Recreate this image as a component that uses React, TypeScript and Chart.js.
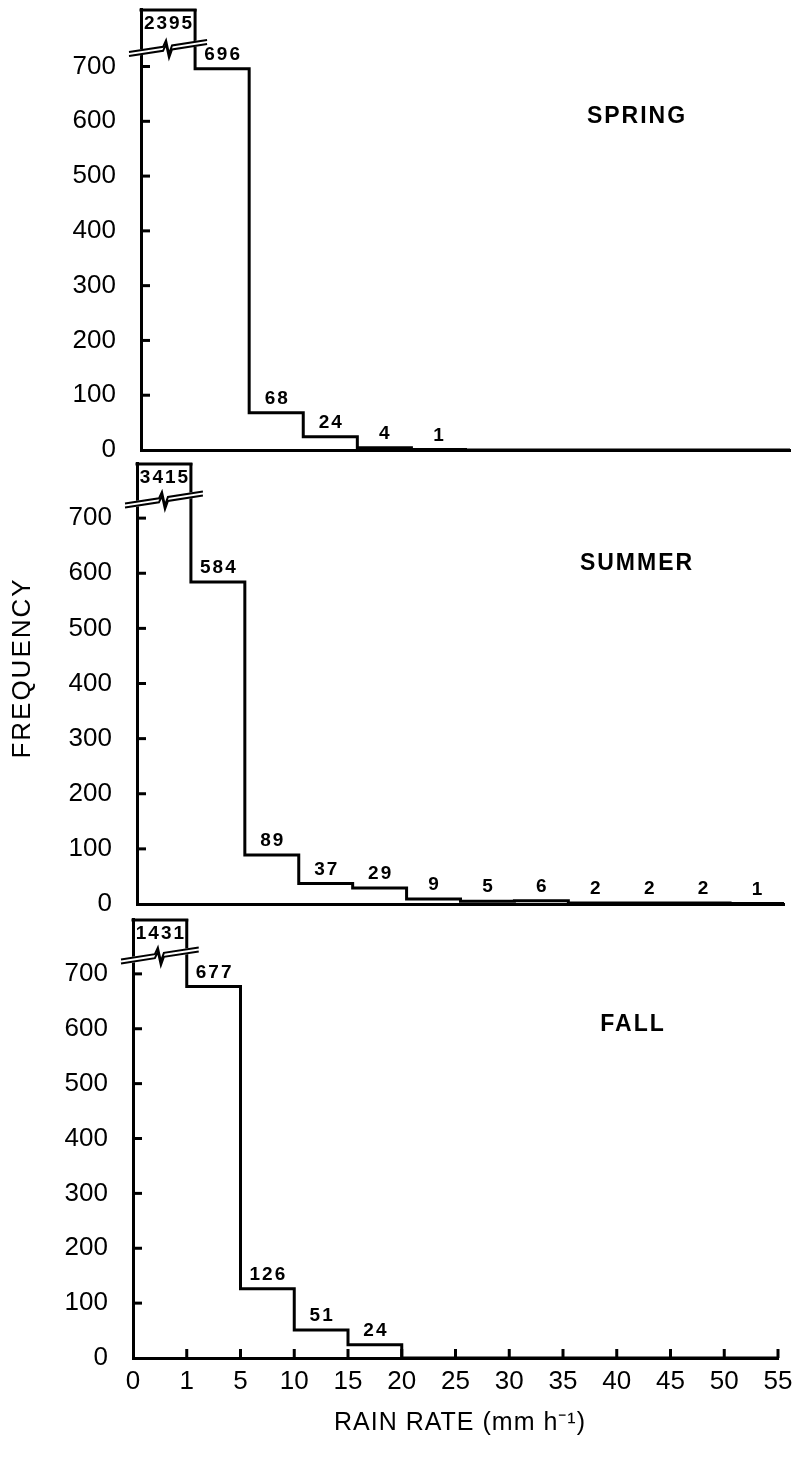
import React, { useEffect, useRef } from 'react';
import { Chart, registerables } from 'chart.js';

Chart.register(...registerables);

// ---------- data ----------
const rainRateLabels = ['0', '1', '5', '10', '15', '20', '25', '30', '35', '40', '45', '50', '55'];
const frequencyTicks = [0, 100, 200, 300, 400, 500, 600, 700];
const springCounts = [2395, 696, 68, 24, 4, 1, 0, 0, 0, 0, 0, 0];
const summerCounts = [3415, 584, 89, 37, 29, 9, 5, 6, 2, 2, 2, 1];
const fallCounts = [1431, 677, 126, 51, 24, 0, 0, 0, 0, 0, 0, 0];
const breakValue = 730;
const yAxisTitle = 'FREQUENCY';
const xAxisTitle = 'RAIN RATE (mm h\u207B\u00B9)';

// ---------- layout / style ----------
const FONT = '"Liberation Sans", Arial, Helvetica, sans-serif';

type PanelCfg = {
  name: string;
  counts: number[];
  top: number;
  height: number;
  left: number;
  right: number;
  plotTop: number;
  plotBottom: number;
  yMax: number;
  titleX: number;
  titleY: number;
  showX: boolean;
  drawYTitle?: boolean;
};

const panels: PanelCfg[] = [
  { name: 'SPRING', counts: springCounts, top: 0, height: 470, left: 141, right: 790, plotTop: 9, plotBottom: 450, yMax: 805, titleX: 636, titleY: 117, showX: false },
  { name: 'SUMMER', counts: summerCounts, top: 455, height: 470, left: 137, right: 784, plotTop: 463, plotBottom: 904, yMax: 800, titleX: 636, titleY: 564, showX: false, drawYTitle: true },
  { name: 'FALL', counts: fallCounts, top: 910, height: 550, left: 133, right: 778, plotTop: 919, plotBottom: 1358, yMax: 800, titleX: 632, titleY: 1025, showX: true },
];

function Panel({ cfg }: { cfg: PanelCfg }) {
  const ref = useRef<HTMLCanvasElement | null>(null);

  useEffect(() => {
    const canvas = ref.current;
    if (!canvas) return;
    const n = cfg.counts.length;
    const points = cfg.counts.map((v, i) => ({ x: i, y: v }));
    points.push({ x: n, y: cfg.counts[n - 1] });

    const localBottom = cfg.plotBottom - cfg.top;
    const xAreaHeight = cfg.height - localBottom;

    const decor = {
      id: 'decor' + cfg.name,
      afterDatasetsDraw(chart: any) {
        const ctx = chart.ctx as CanvasRenderingContext2D;
        const area = chart.chartArea;
        const xs = chart.scales.x;
        const ys = chart.scales.y;
        ctx.save();
        ctx.strokeStyle = '#000';
        ctx.fillStyle = '#000';
        ctx.lineCap = 'butt';

        // inward y ticks
        ctx.lineWidth = 3;
        frequencyTicks.forEach((v) => {
          if (v === 0) return;
          const y = ys.getPixelForValue(v);
          ctx.beginPath();
          ctx.moveTo(area.left, y);
          ctx.lineTo(area.left + 9, y);
          ctx.stroke();
        });

        // inward x ticks (bottom panel only)
        if (cfg.showX) {
          rainRateLabels.forEach((_, i) => {
            if (i === 0) return;
            const x = xs.getPixelForValue(i);
            ctx.beginPath();
            ctx.moveTo(x, area.bottom);
            ctx.lineTo(x, area.bottom - 9);
            ctx.stroke();
          });
        }

        // top edge of the broken first bar
        const x0 = xs.getPixelForValue(0);
        const x1 = xs.getPixelForValue(1);
        ctx.lineWidth = 3;
        ctx.beginPath();
        ctx.moveTo(x0 - 1.5, area.top + 1);
        ctx.lineTo(x1 + 1.5, area.top + 1);
        ctx.stroke();

        // break symbol
        const yb = ys.getPixelForValue(breakValue);
        const bs = x0 - 12;
        const be = x1 + 12;
        const rise = 12;
        const lineY = (x: number, off: number) => yb + rise / 2 - ((x - bs) / (be - bs)) * rise + off;
        const cx = (x0 + x1) / 2;
        ctx.fillStyle = '#fff';
        ctx.beginPath();
        ctx.moveTo(bs, lineY(bs, 1));
        ctx.lineTo(be, lineY(be, 1));
        ctx.lineTo(be, lineY(be, -5));
        ctx.lineTo(bs, lineY(bs, -5));
        ctx.closePath();
        ctx.fill();
        ctx.lineWidth = 2;
        [0, -4].forEach((off) => {
          ctx.beginPath();
          ctx.moveTo(bs, lineY(bs, off));
          ctx.lineTo(cx - 5, lineY(cx - 5, off));
          ctx.lineTo(cx - 2, lineY(cx - 2, off) - 6);
          ctx.lineTo(cx + 1, lineY(cx + 1, off) + 8);
          ctx.lineTo(cx + 4, lineY(cx + 4, off));
          ctx.lineTo(be, lineY(be, off));
          ctx.stroke();
        });

        // bin labels
        ctx.fillStyle = '#000';
        ctx.font = 'bold 19px ' + FONT;
        (ctx as any).letterSpacing = '2px';
        ctx.textAlign = 'center';
        ctx.textBaseline = 'middle';
        cfg.counts.forEach((v, i) => {
          if (!v) return;
          const x = (xs.getPixelForValue(i) + xs.getPixelForValue(i + 1)) / 2 + 1;
          const y = i === 0 ? area.top + 15 : ys.getPixelForValue(v) - 14;
          ctx.fillText(String(v), x, y);
        });

        // season title
        ctx.font = 'bold 23px ' + FONT;
        (ctx as any).letterSpacing = '2px';
        ctx.fillText(cfg.name, cfg.titleX + 1, cfg.titleY - cfg.top);

        // axis titles
        if (cfg.drawYTitle) {
          ctx.save();
          ctx.font = '26px ' + FONT;
          (ctx as any).letterSpacing = '2px';
          ctx.translate(23, 668 - cfg.top);
          ctx.rotate(-Math.PI / 2);
          ctx.fillText(yAxisTitle, 0, 0);
          ctx.restore();
        }
        if (cfg.showX) {
          ctx.font = '25px ' + FONT;
          (ctx as any).letterSpacing = '1px';
          ctx.fillText(xAxisTitle, 460, 1423 - cfg.top);
        }
        ctx.restore();
      },
    };

    const chart = new Chart(canvas, {
      type: 'line',
      data: {
        datasets: [
          {
            data: points,
            stepped: 'before',
            borderColor: '#000',
            borderWidth: 3,
            pointRadius: 0,
            fill: false,
            tension: 0,
          } as any,
        ],
      },
      options: {
        responsive: false,
        animation: false,
        devicePixelRatio: 1,
        layout: {
          padding: {
            left: 0,
            right: 801 - cfg.right,
            top: cfg.plotTop - cfg.top,
            bottom: cfg.showX ? 0 : xAreaHeight,
          },
        },
        plugins: {
          legend: { display: false },
          tooltip: { enabled: false },
        },
        scales: {
          x: {
            type: 'linear',
            min: 0,
            max: 12,
            grid: { display: false },
            border: { display: true, color: '#000', width: 3 },
            ticks: {
              display: cfg.showX,
              stepSize: 1,
              padding: 0,
              color: '#000',
              font: { size: 26, family: FONT },
              maxRotation: 0,
              autoSkip: false,
              callback: (v: any) => rainRateLabels[Number(v)] ?? '',
            },
            afterBuildTicks: (s: any) => {
              s.ticks = rainRateLabels.map((_, i) => ({ value: i }));
            },
            afterFit: (s: any) => {
              s.height = cfg.showX ? xAreaHeight : 0;
              s.paddingLeft = 0;
              s.paddingRight = 0;
            },
          },
          y: {
            type: 'linear',
            min: 0,
            max: cfg.yMax,
            grid: { display: false },
            border: { display: true, color: '#000', width: 3 },
            ticks: {
              stepSize: 100,
              padding: 17,
              color: '#000',
              font: { size: 26, family: FONT },
            },
            afterBuildTicks: (s: any) => {
              s.ticks = frequencyTicks.map((v) => ({ value: v }));
            },
            afterFit: (s: any) => {
              s.width = cfg.left;
              s.paddingTop = 0;
              s.paddingBottom = 0;
            },
          },
        },
      } as any,
      plugins: [decor],
    });

    return () => chart.destroy();
  }, [cfg]);

  return (
    <canvas
      ref={ref}
      width={801}
      height={cfg.height}
      style={{ position: 'absolute', left: 0, top: cfg.top }}
    />
  );
}

export default function App() {
  return (
    <div style={{ position: 'absolute', left: 0, top: 0, width: 801, height: 1460, background: '#fff', overflow: 'hidden' }}>
      {panels.map((p) => (
        <Panel key={p.name} cfg={p} />
      ))}
    </div>
  );
}
